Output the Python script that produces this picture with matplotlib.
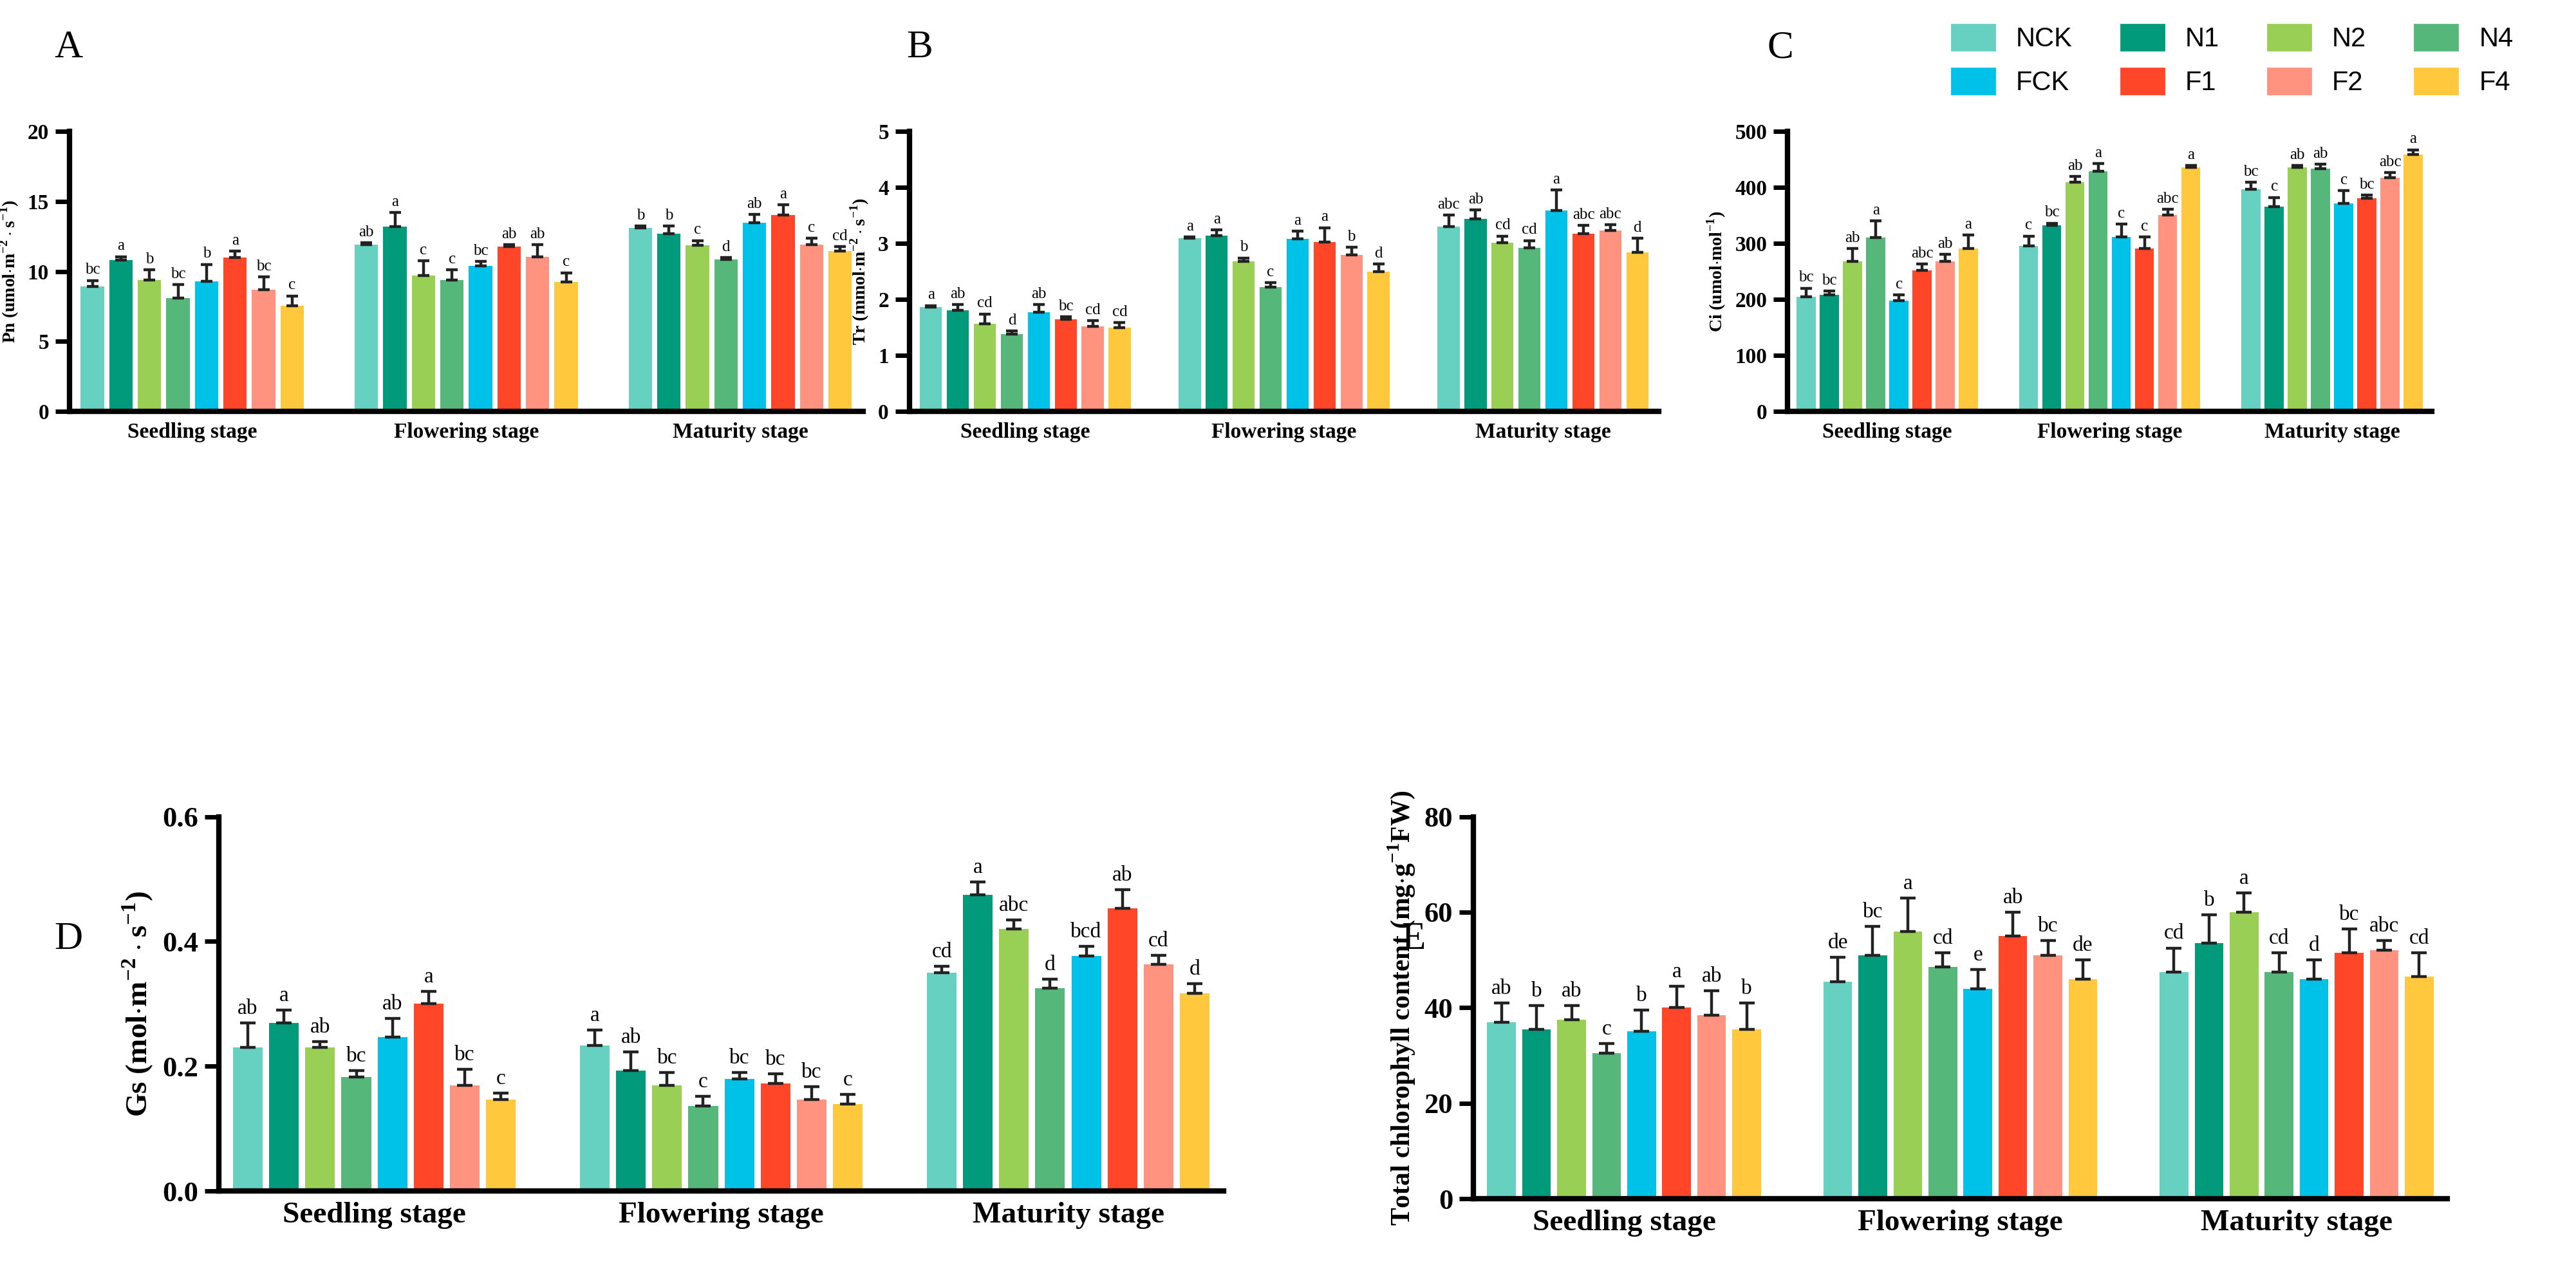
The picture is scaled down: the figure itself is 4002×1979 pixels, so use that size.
import numpy as np
import matplotlib
matplotlib.use('Agg')
import matplotlib.pyplot as plt

plt.rcParams['font.family'] = ['Liberation Serif', 'DejaVu Serif']
plt.rcParams['mathtext.fontset'] = 'custom'
plt.rcParams['mathtext.rm'] = 'Liberation Serif:bold'
plt.rcParams['mathtext.bf'] = 'Liberation Serif:bold'

stages = ['Seedling stage', 'Flowering stage', 'Maturity stage']
treatments = ['NCK', 'N1', 'N2', 'N4', 'FCK', 'F1', 'F2', 'F4']
colors = ['#66D1C1', '#019A7A', '#9ACF55', '#56B77B', '#00C2E8', '#FF4628', '#FF9380', '#FFC83D']

pn = [[8.9, 10.8, 9.4, 8.1, 9.3, 11.0, 8.7, 7.55],
      [11.9, 13.2, 9.7, 9.4, 10.4, 11.75, 11.05, 9.25],
      [13.1, 12.7, 11.85, 10.85, 13.45, 14.0, 11.9, 11.45]]
pn_err = [[.45, .25, .7, .95, 1.2, .45, .9, .7],
          [.15, 1.0, 1.05, .7, .3, .15, .85, .65],
          [.15, .55, .35, .15, .6, .75, .45, .3]]
pn_let = [['bc', 'a', 'b', 'bc', 'b', 'a', 'bc', 'c'],
          ['ab', 'a', 'c', 'c', 'bc', 'ab', 'ab', 'c'],
          ['b', 'b', 'c', 'd', 'ab', 'a', 'c', 'cd']]

tr = [[1.86, 1.81, 1.57, 1.38, 1.77, 1.64, 1.52, 1.49],
      [3.09, 3.14, 2.68, 2.22, 3.08, 3.02, 2.79, 2.50],
      [3.30, 3.44, 3.01, 2.92, 3.59, 3.17, 3.23, 2.84]]
tr_err = [[.03, .1, .17, .06, .14, .05, .1, .1],
          [.02, .1, .06, .08, .14, .26, .14, .13],
          [.2, .16, .12, .13, .36, .15, .1, .25]]
tr_let = [['a', 'ab', 'cd', 'd', 'ab', 'bc', 'cd', 'cd'],
          ['a', 'a', 'b', 'c', 'a', 'a', 'b', 'd'],
          ['abc', 'ab', 'cd', 'cd', 'a', 'abc', 'abc', 'd']]

ci = [[205, 208, 268, 310, 198, 252, 268, 291],
      [295, 332, 409, 429, 311, 291, 350, 435],
      [396, 366, 435, 433, 371, 380, 417, 458]]
ci_err = [[15, 7, 23, 30, 10, 11, 12, 24],
          [18, 4, 10, 13, 23, 20, 11, 4],
          [13, 16, 4, 8, 23, 6, 9, 9]]
ci_let = [['bc', 'bc', 'ab', 'a', 'c', 'abc', 'ab', 'a'],
          ['c', 'bc', 'ab', 'a', 'c', 'c', 'abc', 'a'],
          ['bc', 'c', 'ab', 'ab', 'c', 'bc', 'abc', 'a']]

gs = [[.23, .27, .23, .183, .247, .30, .17, .147],
      [.233, .193, .17, .137, .18, .173, .147, .14],
      [.35, .475, .42, .325, .377, .453, .363, .317]]
gs_err = [[.04, .02, .01, .01, .03, .02, .025, .01],
          [.025, .03, .02, .015, .01, .015, .02, .015],
          [.01, .02, .015, .015, .015, .03, .015, .015]]
gs_let = [['ab', 'a', 'ab', 'bc', 'ab', 'a', 'bc', 'c'],
          ['a', 'ab', 'bc', 'c', 'bc', 'bc', 'bc', 'c'],
          ['cd', 'a', 'abc', 'd', 'bcd', 'ab', 'cd', 'd']]

chl = [[37, 35.5, 37.5, 30.5, 35, 40, 38.5, 35.5],
       [45.5, 51, 56, 48.5, 44, 55, 51, 46],
       [47.5, 53.5, 60, 47.5, 46, 51.5, 52, 46.5]]
chl_err = [[4, 5, 3, 2, 4.5, 4.5, 5, 5.5],
           [5, 6, 7, 3, 4, 5, 3, 4],
           [5, 6, 4, 4, 4, 5, 2, 5]]
chl_let = [['ab', 'b', 'ab', 'c', 'b', 'a', 'ab', 'b'],
           ['de', 'bc', 'a', 'cd', 'e', 'ab', 'bc', 'de'],
           ['cd', 'b', 'a', 'cd', 'd', 'bc', 'abc', 'cd']]


def panel(ax, vals, errs, lets, ymax, step, ylabel, fs_tick, fs_let, fs_lab, fs_ylab):
    vals = np.array(vals)
    errs = np.array(errs)
    gap = 9.6
    for g in range(3):
        for i in range(8):
            x = g * gap + i
            v, e = vals[g, i], errs[g, i]
            ax.bar(x, v, width=0.82, color=colors[i], zorder=2)
            ax.errorbar(x, v, yerr=[[0], [e]], color='#222222', capsize=fs_let * 0.35,
                        elinewidth=1.6, capthick=1.6, zorder=3)
            ax.text(x, v + e + ymax * 0.012, lets[g][i], ha='center', va='bottom',
                    fontsize=fs_let)
    ax.set_xlim(-0.8, 2 * gap + 7.8)
    ax.set_ylim(0, ymax)
    ax.set_yticks(np.arange(0, ymax + step / 2, step))
    ax.set_xticks([g * gap + 3.5 for g in range(3)])
    ax.set_xticklabels(stages, fontsize=fs_lab, fontweight='bold')
    ax.tick_params(axis='x', length=0, pad=6)
    ax.tick_params(axis='y', labelsize=fs_tick, width=2.5, length=8)
    for t in ax.get_yticklabels():
        t.set_fontweight('bold')
    ax.set_ylabel(ylabel, fontsize=fs_ylab, fontweight='bold')
    for s in ['top', 'right']:
        ax.spines[s].set_visible(False)
    for s in ['left', 'bottom']:
        ax.spines[s].set_linewidth(3)


fig = plt.figure(figsize=(20.01, 9.895), dpi=200)

axA = fig.add_axes([0.027, 1 - 0.323, 0.308, 0.220])
axB = fig.add_axes([0.353, 1 - 0.323, 0.291, 0.220])
axC = fig.add_axes([0.694, 1 - 0.323, 0.250, 0.220])
axD = fig.add_axes([0.085, 1 - 0.935, 0.390, 0.294])
axE = fig.add_axes([0.572, 1 - 0.941, 0.378, 0.300])

panel(axA, pn, pn_err, pn_let, 20, 5, r'Pn (umol$\cdot$m$^{-2}\cdot$s$^{-1}$)', 12, 9, 12, 10)
panel(axB, tr, tr_err, tr_let, 5, 1, r'Tr (mmol$\cdot$m$^{-2}\cdot$s$^{-1}$)', 12, 9, 12, 10)
panel(axC, ci, ci_err, ci_let, 500, 100, r'Ci (umol$\cdot$mol$^{-1}$)', 12, 9, 12, 10)
panel(axD, gs, gs_err, gs_let, 0.6, 0.2, r'Gs (mol$\cdot$m$^{-2}\cdot$s$^{-1}$)', 16, 12, 17, 17)
panel(axE, chl, chl_err, chl_let, 80, 20, r'Total chlorophyll content (mg$\cdot$g$^{-1}$FW)', 16, 12, 17, 15)
axD.yaxis.set_major_formatter(matplotlib.ticker.FormatStrFormatter('%.1f'))

for lab, x, y in [('A', 0.021, 0.955), ('B', 0.352, 0.955), ('C', 0.686, 0.955),
                  ('D', 0.021, 0.255), ('E', 0.544, 0.255)]:
    fig.text(x, y, lab, fontsize=22)

handles = [plt.Rectangle((0, 0), 1, 1, color=c) for c in colors]
order = [0, 4, 1, 5, 2, 6, 3, 7]
fig.legend([handles[i] for i in order], [treatments[i] for i in order], ncol=4,
           loc='upper right', bbox_to_anchor=(0.985, 1.0), frameon=False,
           prop={'family': 'Liberation Sans', 'size': 15}, handlelength=1.6,
           handleheight=1.1, columnspacing=1.8, labelspacing=0.6)

fig.savefig('out.png', dpi=200)
